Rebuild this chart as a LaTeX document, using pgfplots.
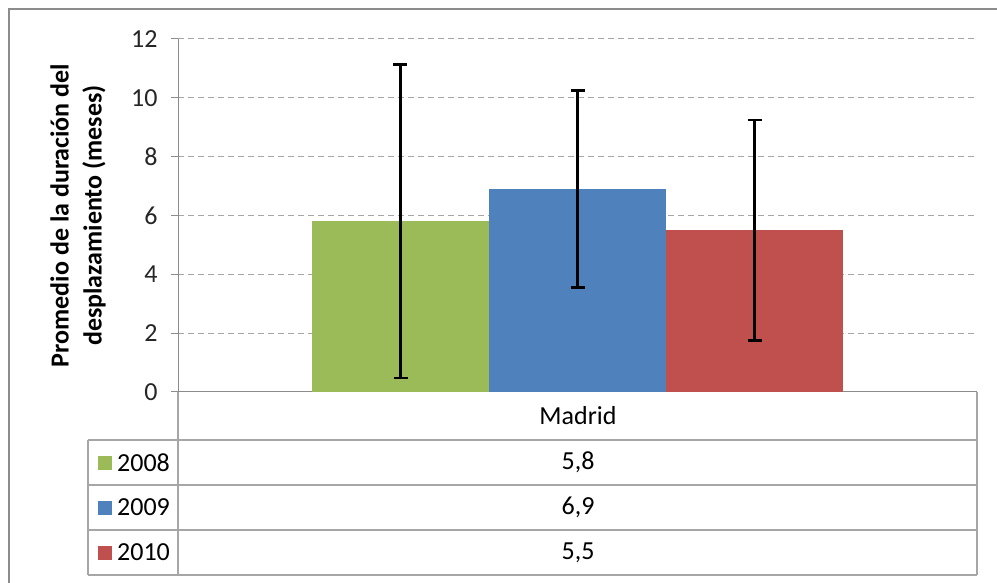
\documentclass[border=0pt]{standalone}
\usepackage{fontspec}
\setmainfont{Carlito}
\usepackage{pgfplots}
\pgfplotsset{compat=1.18}
\definecolor{cgreen}{HTML}{9BBB59}
\definecolor{cblue}{HTML}{4F81BD}
\definecolor{cred}{HTML}{C0504D}
\definecolor{lgray}{HTML}{A6A6A6}
\definecolor{agray}{HTML}{8C8C8C}
\begin{document}
\begin{tikzpicture}[x=1pt,y=1pt]
\useasboundingbox (0,0) rectangle (997,582);
\fill[white] (0,0) rectangle (997,582);
\draw[agray, line width=1.5pt] (9,-5) -- (9,573) -- (1005,573);
\begin{axis}[
  at={(178pt,190pt)}, anchor=south west, scale only axis,
  width=799pt, height=353pt,
  xmin=-0.5, xmax=0.5, ymin=0, ymax=12,
  ytick={0,2,...,12}, xtick=\empty,
  axis x line*=bottom, axis y line*=left,
  axis line style={agray, line width=1pt, -},
  ymajorgrids,
  grid style={lgray, dash pattern=on 6pt off 4pt, line width=1pt},
  major tick length=7pt, tick align=outside,
  tick style={agray, line width=1pt},
  yticklabel style={font=\fontsize{26}{30}\selectfont, text=black!85, xshift=-10pt},
  /pgf/number format/assume math mode=true,
  ylabel={Promedio de la duración del\\desplazamiento (meses)},
  ylabel style={font=\bfseries\fontsize{26}{33}\selectfont, align=center,
    at={(axis description cs:-0.125,0.5)}, anchor=center},
  ybar=0pt, bar width=177pt,
  clip=false,
]
\addplot[fill=cgreen, draw=none,
  error bars/.cd, y dir=both, y explicit,
  error bar style={black, line width=2.2pt},
  error mark options={rotate=90, mark size=7pt, black, line width=2.2pt}]
  coordinates {(0,5.8) +- (0,5.33)};
\addplot[fill=cblue, draw=none,
  error bars/.cd, y dir=both, y explicit,
  error bar style={black, line width=2.2pt},
  error mark options={rotate=90, mark size=7pt, black, line width=2.2pt}]
  coordinates {(0,6.9) +- (0,3.35)};
\addplot[fill=cred, draw=none,
  error bars/.cd, y dir=both, y explicit,
  error bar style={black, line width=2.2pt},
  error mark options={rotate=90, mark size=7pt, black, line width=2.2pt}]
  coordinates {(0,5.5) +- (0,3.75)};
\end{axis}
% data table
\draw[lgray, line width=1.2pt] (178,190) -- (178,7);
\draw[lgray, line width=1.2pt] (977,190) -- (977,7);
\draw[lgray, line width=1.2pt] (88,142) -- (977,142);
\draw[lgray, line width=1.2pt] (88,97) -- (977,97);
\draw[lgray, line width=1.2pt] (88,52) -- (977,52);
\draw[lgray, line width=1.2pt] (88,7) -- (977,7);
\draw[lgray, line width=1.2pt] (88,142) -- (88,7);
\begin{scope}[every node/.style={font=\fontsize{26}{30}\selectfont, inner sep=0pt}]
\node at (578,166) {Madrid};
\node at (578,119.5) {5,8};
\node at (578,74.5) {6,9};
\node at (578,29.5) {5,5};
\fill[cgreen] (98,112.5) rectangle (112,126.5);
\fill[cblue] (98,67.5) rectangle (112,81.5);
\fill[cred] (98,22.5) rectangle (112,36.5);
\node[anchor=west] at (117,119.5) {2008};
\node[anchor=west] at (117,74.5) {2009};
\node[anchor=west] at (117,29.5) {2010};
\end{scope}
\end{tikzpicture}
\end{document}
